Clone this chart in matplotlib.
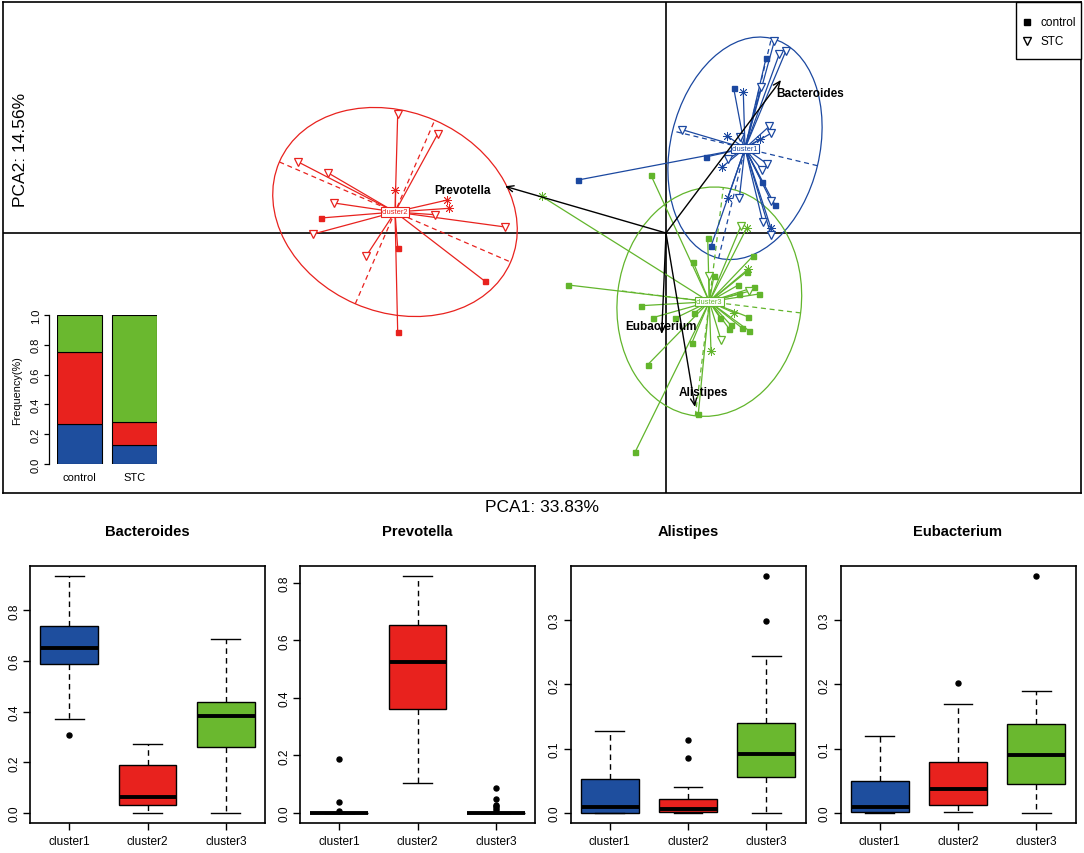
import numpy as np
import matplotlib
matplotlib.use("Agg")
import matplotlib.pyplot as plt
from matplotlib.patches import Ellipse, Rectangle

plt.rcParams['font.family'] = ['Liberation Sans', 'DejaVu Sans']

# ---------------- data ----------------
clusters = ['cluster1', 'cluster2', 'cluster3']
cluster_colors = ['#1B48A0', '#E8221E', '#62B52C']
fill_colors = ['#1E4E9E', '#E8221E', '#6AB82F']

# PCA scores (S = control, T = STC, A = overlapping)
c1_x = [1.083, 1.20, 1.133, 1.00, 0.95, 0.677, 0.773, 0.163, 0.607, 0.74, 1.033, 1.05, 0.94, 0.397,
        0.623, 0.557, 1.013, 0.957, 0.963, 1.05, 1.09, 0.617, 0.733, 0.967, 1.05, 1.05, 0.45, -0.88]
c1_y = [1.917, 1.823, 1.79, 1.747, 1.457, 1.447, 1.407, 1.033, 0.973, 0.957, 1.067, 0.997, 0.94, 0.76,
        0.74, 0.657, 0.69, 0.633, 0.507, 0.323, 0.28, 0.347, 0.347, 0.113, 0.047, -0.02, -0.133, 0.53]
c1_m = ['T', 'T', 'T', 'S', 'T', 'S', 'A', 'T', 'A', 'T', 'T', 'T', 'A', 'S',
        'T', 'A', 'T', 'T', 'S', 'T', 'S', 'A', 'T', 'T', 'A', 'T', 'S', 'S']

c2_x = [-2.683, -2.283, -3.683, -3.377, -3.32, -3.45, -3.527, -3.00, -2.683, -2.683, -1.81, -1.607,
        -2.31, -2.187, -2.167, -2.71]
c2_y = [1.19, 0.99, 0.713, 0.60, 0.30, 0.15, -0.01, -0.233, -0.15, -0.993, -0.483, 0.06,
        0.183, 0.33, 0.247, 0.433]
c2_m = ['T', 'T', 'T', 'T', 'T', 'S', 'T', 'T', 'S', 'S', 'S', 'T', 'T', 'A', 'A', 'A']

c3_x = [-0.153, -1.243, 0.417, 0.75, 0.807, 0.273, 0.43, 0.48, 0.873, 0.823, 0.807, -0.977, 0.723,
        0.883, 0.83, 0.93, 0.73, -0.25, -0.133, 0.09, 0.283, 0.54, 0.683, 0.823, 0.647, 0.633,
        0.763, 0.83, 0.55, 0.257, 0.45, -0.183, 0.323, -0.31]
c3_y = [0.583, 0.367, -0.05, 0.073, 0.05, -0.293, -0.427, -0.427, -0.227, -0.36, -0.387, -0.52,
        -0.52, -0.543, -0.583, -0.61, -0.61, -0.727, -0.847, -0.853, -0.80, -0.847, -0.80, -0.84,
        -0.92, -0.96, -0.953, -0.977, -1.07, -1.103, -1.177, -1.317, -1.81, -2.193]
c3_m = ['S', 'A', 'S', 'T', 'A', 'S', 'T', 'S', 'S', 'A', 'S', 'S', 'S', 'S', 'T', 'S', 'S', 'S',
        'S', 'S', 'S', 'S', 'A', 'S', 'S', 'S', 'S', 'S', 'T', 'S', 'A', 'S', 'S', 'S']

center_x = [0.79, -2.71, 0.433]
center_y = [0.847, 0.21, -0.687]
ell_a = [1.13, 1.26, 1.15]
ell_b = [0.745, 1.0, 0.92]
ell_angle = [76.5, -23.4, 83.0]

genera = ['Bacteroides', 'Prevotella', 'Eubacterium', 'Alistipes']
arrow_x = [1.15, -1.61, -0.043, 0.29]
arrow_y = [1.53, 0.467, -1.01, -1.74]
glabel_x = [1.10, -2.32, -0.05, 0.13]
glabel_y = [1.40, 0.433, -0.933, -1.593]
glabel_ha = ['left', 'left', 'center', 'left']

groups = ['control', 'STC']
freq_c1 = [0.27, 0.13]
freq_c2 = [0.485, 0.155]
freq_c3 = [0.245, 0.715]

box_genera = ['Bacteroides', 'Prevotella', 'Alistipes', 'Eubacterium']
# per genus: [whislo, q1, med, q3, whishi] for cluster1..3
box_stats = {
    'Bacteroides': [[0.370, 0.588, 0.652, 0.738, 0.938], [0.0, 0.030, 0.062, 0.191, 0.271],
                    [0.0, 0.262, 0.382, 0.438, 0.688]],
    'Prevotella': [[0.0, 0.0, 0.0, 0.0, 0.0], [0.105, 0.360, 0.524, 0.652, 0.825],
                   [0.0, 0.0, 0.0, 0.0, 0.0]],
    'Alistipes': [[0.0, 0.0, 0.009, 0.053, 0.128], [0.0, 0.001, 0.006, 0.022, 0.040],
                  [0.0, 0.056, 0.091, 0.140, 0.244]],
    'Eubacterium': [[0.0, 0.001, 0.010, 0.049, 0.119], [0.0016, 0.012, 0.038, 0.080, 0.170],
                    [0.0, 0.0455, 0.0905, 0.139, 0.189]],
}
box_fliers = {
    'Bacteroides': [[0.307], [], []],
    'Prevotella': [[0.189, 0.038, 0.007], [], [0.088, 0.047, 0.029, 0.023, 0.018, 0.012]],
    'Alistipes': [[], [0.114, 0.085], [0.298, 0.369]],
    'Eubacterium': [[], [0.202], [0.369]],
}
box_yticks = {
    'Bacteroides': [0.0, 0.2, 0.4, 0.6, 0.8],
    'Prevotella': [0.0, 0.2, 0.4, 0.6, 0.8],
    'Alistipes': [0.0, 0.1, 0.2, 0.3],
    'Eubacterium': [0.0, 0.1, 0.2, 0.3],
}

# ---------------- figure ----------------
W, H = 1084, 854
fig = plt.figure(figsize=(W / 100, H / 100), dpi=100)


def add_ax(x0, y0, x1, y1):
    return fig.add_axes([x0 / W, 1 - y1 / H, (x1 - x0) / W, (y1 - y0) / H])


# ---- main PCA panel ----
ax = add_ax(3, 3, 1081, 494)
ax.set_xlim(-6.63, 4.15)
ax.set_ylim(-2.60, 2.31)
ax.set_xticks([])
ax.set_yticks([])
for s in ax.spines.values():
    s.set_linewidth(1.2)
ax.axhline(0, color='black', lw=1.2, zorder=1)
ax.axvline(0, color='black', lw=1.2, zorder=1)

all_x = [c1_x, c2_x, c3_x]
all_y = [c1_y, c2_y, c3_y]
all_m = [c1_m, c2_m, c3_m]

for k in range(3):
    col = cluster_colors[k]
    cx, cy = center_x[k], center_y[k]
    a, b, ang = ell_a[k], ell_b[k], ell_angle[k]
    ax.add_patch(Ellipse((cx, cy), 2 * a, 2 * b, angle=ang, fill=False, ec=col, lw=0.9, zorder=2))
    t = np.deg2rad(ang)
    ux, uy = np.cos(t), np.sin(t)
    vx, vy = -np.sin(t), np.cos(t)
    ax.plot([cx - a * ux, cx + a * ux], [cy - a * uy, cy + a * uy], ls=(0, (4, 3)), color=col, lw=0.9, zorder=2)
    ax.plot([cx - b * vx, cx + b * vx], [cy - b * vy, cy + b * vy], ls=(0, (4, 3)), color=col, lw=0.9, zorder=2)
    for px, py in zip(all_x[k], all_y[k]):
        ax.plot([cx, px], [cy, py], color=col, lw=0.9, zorder=3)
    for px, py, m in zip(all_x[k], all_y[k], all_m[k]):
        if m == 'S':
            ax.plot(px, py, marker='s', ms=3.6, mfc=col, mec=col, ls='none', zorder=4)
        elif m == 'T':
            ax.plot(px, py, marker='v', ms=6, mfc='white', mec=col, mew=0.9, ls='none', zorder=4)
        else:
            ax.plot(px, py, marker=(8, 2, 0), ms=6.5, mec=col, mew=0.6, ls='none', zorder=4)
    ax.text(cx, cy, clusters[k], fontsize=5.4, color=col, ha='center', va='center', zorder=5,
            bbox=dict(boxstyle='square,pad=0.15', fc='white', ec=col, lw=0.8))

for g, axx, ayy, lx, ly, ha in zip(genera, arrow_x, arrow_y, glabel_x, glabel_y, glabel_ha):
    ax.annotate('', xy=(axx, ayy), xytext=(0, 0),
                arrowprops=dict(arrowstyle='->,head_length=0.5,head_width=0.22', color='black',
                                lw=1.0, shrinkA=0, shrinkB=0), zorder=6)
    ax.text(lx, ly, g, fontsize=8.5, fontweight='bold', ha=ha, va='center', zorder=7)

# legend box (top right corner)
ax.add_patch(Rectangle((0.9397, 0.8839), 1 - 0.9397, 1 - 0.8839, transform=ax.transAxes,
                       fc='white', ec='black', lw=1.0, zorder=8, clip_on=False))
leg_y = [0.9587, 0.9200]
ax.plot([0.9497], [leg_y[0]], marker='s', ms=4, color='black', ls='none',
        transform=ax.transAxes, zorder=9, clip_on=False)
ax.plot([0.9497], [leg_y[1]], marker='v', ms=6, mfc='white', mec='black', mew=1, ls='none',
        transform=ax.transAxes, zorder=9, clip_on=False)
for yy, lab in zip(leg_y, groups):
    ax.text(0.962, yy, lab, fontsize=8.5, ha='left', va='center', transform=ax.transAxes, zorder=9)

fig.text(541.7 / W, 1 - 507.3 / H, 'PCA1: 33.83%', fontsize=12.5, ha='center', va='center')
fig.text(21 / W, 1 - 150 / H, 'PCA2: 14.56%', fontsize=12.5, ha='center', va='center', rotation=90)

# ---- inset stacked bars ----
ax_in = add_ax(56.7, 316, 157.3, 465)
ax_in.patch.set_alpha(0)
pos = [0.7, 1.9]
b1 = np.array(freq_c1)
b2 = np.array(freq_c2)
b3 = np.array(freq_c3)
ax_in.bar(pos, b1, width=1.0, color=fill_colors[0], edgecolor='black', lw=0.8)
ax_in.bar(pos, b2, width=1.0, bottom=b1, color=fill_colors[1], edgecolor='black', lw=0.8)
ax_in.bar(pos, b3, width=1.0, bottom=b1 + b2, color=fill_colors[2], edgecolor='black', lw=0.8)
ax_in.set_xlim(0.2, 2.4)
ax_in.set_ylim(0, 1)
for s in ['top', 'right', 'bottom']:
    ax_in.spines[s].set_visible(False)
ax_in.spines['left'].set_position(('outward', 5.3))
ax_in.spines['left'].set_bounds(0, 1)
ax_in.spines['left'].set_linewidth(0.9)
ax_in.set_yticks([0.0, 0.2, 0.4, 0.6, 0.8, 1.0])
ax_in.set_yticklabels(['0.0', '0.2', '0.4', '0.6', '0.8', '1.0'], rotation=90, va='center', fontsize=8)
ax_in.tick_params(axis='y', length=3.6, width=0.9, pad=2.5)
ax_in.set_xticks(pos)
ax_in.set_xticklabels(groups, fontsize=8)
ax_in.tick_params(axis='x', length=0, pad=6)
ax_in.set_ylabel('Frequency(%)', fontsize=7.8, labelpad=6)

# ---- box plots ----
lefts = [30, 300, 570.5, 840.5]
for i, g in enumerate(box_genera):
    bx = add_ax(lefts[i], 567, lefts[i] + 235, 823.5)
    stats = []
    for k in range(3):
        wl, q1, med, q3, wh = box_stats[g][k]
        stats.append(dict(whislo=wl, q1=q1, med=med, q3=q3, whishi=wh, fliers=box_fliers[g][k]))
    res = bx.bxp(stats, positions=[1, 2, 3], widths=0.74, patch_artist=True, showfliers=True,
                 boxprops=dict(lw=1.0, edgecolor='black'),
                 whiskerprops=dict(ls=(0, (4, 3)), lw=1.0, color='black'),
                 capprops=dict(lw=1.0, color='black'), capwidths=0.37,
                 medianprops=dict(color='black', lw=2.8, solid_capstyle='butt'),
                 flierprops=dict(marker='o', mfc='black', mec='black', ms=3.6, ls='none'))
    for patch, fc in zip(res['boxes'], fill_colors):
        patch.set_facecolor(fc)
    vals = []
    for k in range(3):
        vals += box_stats[g][k] + box_fliers[g][k]
    lo, hi = min(vals), max(vals)
    ext = 0.04 * (hi - lo)
    bx.set_ylim(lo - ext, hi + ext)
    bx.set_xlim(0.5, 3.5)
    bx.set_xticks([1, 2, 3])
    bx.set_xticklabels(clusters, fontsize=8.6)
    bx.set_yticks(box_yticks[g])
    bx.set_yticklabels(['%.1f' % v for v in box_yticks[g]], rotation=90, va='center', fontsize=8.6)
    bx.tick_params(axis='both', length=5, width=1.0, direction='out')
    bx.tick_params(axis='x', pad=4)
    bx.tick_params(axis='y', pad=2)
    for s in bx.spines.values():
        s.set_linewidth(1.2)
    fig.text((lefts[i] + 117.5) / W, 1 - 531.7 / H, g, fontsize=10.6, fontweight='bold',
             ha='center', va='center')

fig.savefig('out.png', dpi=100)
